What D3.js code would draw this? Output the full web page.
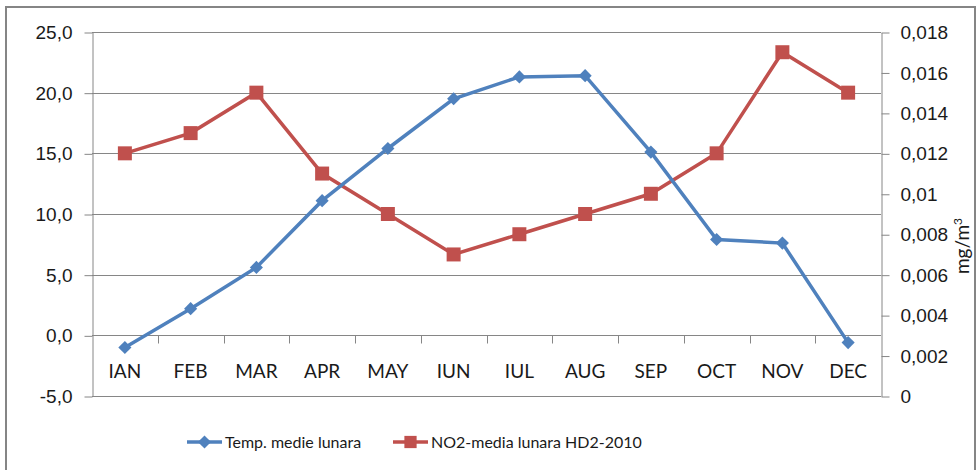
<!DOCTYPE html>
<meta charset="utf-8">
<script src="https://cdn.jsdelivr.net/npm/d3@7"></script>
<style>
    body { margin: 0; background: #fff; }
    svg { font-family: "Lato", "Open Sans", sans-serif; }
</style>
<svg width="979" height="470"></svg>
<script>
    var months = ["IAN", "FEB", "MAR", "APR", "MAY", "IUN", "IUL", "AUG", "SEP", "OCT", "NOV", "DEC"];
    var tempValues = [-1.0, 2.2, 5.6, 11.1, 15.4, 19.5, 21.3, 21.4, 15.1, 7.9, 7.6, -0.6];
    var no2Values = [0.012, 0.013, 0.015, 0.011, 0.009, 0.007, 0.008, 0.009, 0.010, 0.012, 0.017, 0.015];
    var leftTicks = [-5, 0, 5, 10, 15, 20, 25];
    var rightTicks = [0, 0.002, 0.004, 0.006, 0.008, 0.01, 0.012, 0.014, 0.016, 0.018];
    var seriesNames = ["Temp. medie lunara", "NO2-media lunara HD2-2010"];

    var svg = d3.select("svg");
    var blue = "#4f81bd", red = "#c0504d", gridColor = "#868686";

    var locale = d3.formatLocale({decimal: ",", thousands: ".", grouping: [3], currency: ["", ""], minus: "-"});
    var fmtLeft = locale.format(".1f"),
        fmtRight = locale.format(".3~f");

    var plotL = 92, plotR = 881, plotT = 32, plotB = 396;

    // outer frame
    svg.append("rect")
        .attr("x", 6).attr("y", 7).attr("width", 969).attr("height", 480)
        .attr("fill", "#fff").attr("stroke", "#858585").attr("stroke-width", 2);

    var x = d3.scaleBand().domain(months).range([plotL, plotR]);
    var yL = d3.scaleLinear().domain([-5, 25]).range([plotB, plotT]);
    var yR = d3.scaleLinear().domain([0, 0.018]).range([plotB, plotT]);

    // horizontal gridlines
    svg.append("g").selectAll("line")
        .data(leftTicks)
        .enter().append("line")
        .attr("x1", plotL).attr("x2", plotR)
        .attr("y1", function (d) { return Math.round(yL(d)) + 0.5; })
        .attr("y2", function (d) { return Math.round(yL(d)) + 0.5; })
        .attr("stroke", gridColor);

    // left axis
    var axL = svg.append("g")
        .attr("transform", "translate(" + (plotL + 0.5) + ",0.5)")
        .call(d3.axisLeft(yL).tickValues(leftTicks).tickFormat(fmtLeft).tickSizeInner(8).tickSizeOuter(0).tickPadding(12));
    // right axis
    var axR = svg.append("g")
        .attr("transform", "translate(" + (plotR + 0.5) + ",0.5)")
        .call(d3.axisRight(yR).tickValues(rightTicks).tickFormat(fmtRight).tickSizeInner(8).tickSizeOuter(0).tickPadding(11));
    // category axis on the zero line, ticks between categories
    var axX = svg.append("g")
        .attr("transform", "translate(0," + (Math.round(yL(0)) + 0.5) + ")");
    axX.append("line").attr("x1", plotL).attr("x2", plotR).attr("stroke", gridColor);
    axX.selectAll("line.tk")
        .data(months.slice(1))
        .enter().append("line")
        .attr("class", "tk")
        .attr("x1", function (d) { return Math.round(x(d)) + 0.5; })
        .attr("x2", function (d) { return Math.round(x(d)) + 0.5; })
        .attr("y1", 0).attr("y2", 8)
        .attr("stroke", gridColor);
    axX.selectAll("text")
        .data(months)
        .enter().append("text")
        .attr("x", function (d) { return x(d) + x.bandwidth() / 2; })
        .attr("y", 42)
        .attr("text-anchor", "middle")
        .attr("fill", "#1a1a1a")
        .attr("font-size", 19)
        .text(function (d) { return d; });

    [axL, axR].forEach(function (g) {
        g.select(".domain").attr("stroke", gridColor);
        g.selectAll(".tick line").attr("stroke", gridColor);
        g.selectAll(".tick text").attr("fill", "#1a1a1a").attr("font-size", 19).attr("font-family", null);
    });

    // right axis title
    svg.append("text")
        .attr("transform", "translate(969,246) rotate(-90)")
        .attr("text-anchor", "middle")
        .attr("font-size", 19)
        .attr("fill", "#1a1a1a")
        .html('mg/m<tspan dy="-7" font-size="12">3</tspan>');

    var cx = function (d, i) { return x(months[i]) + x.bandwidth() / 2; };

    var tempLine = d3.line().x(function (d, i) { return cx(d, i); }).y(function (d) { return yL(d); });
    var no2Line = d3.line().x(function (d, i) { return cx(d, i); }).y(function (d) { return yR(d); });

    svg.append("path").datum(no2Values)
        .attr("d", no2Line).attr("fill", "none").attr("stroke", red).attr("stroke-width", 3.5);
    svg.append("path").datum(tempValues)
        .attr("d", tempLine).attr("fill", "none").attr("stroke", blue).attr("stroke-width", 3.5);

    var square = d3.symbol().type(d3.symbolSquare).size(196);
    var diamond = d3.symbol().type(d3.symbolDiamond2).size(110);

    svg.append("g").selectAll("path")
        .data(no2Values)
        .enter().append("path")
        .attr("d", square)
        .attr("transform", function (d, i) { return "translate(" + cx(d, i) + "," + yR(d) + ")"; })
        .attr("fill", red);
    svg.append("g").selectAll("path")
        .data(tempValues)
        .enter().append("path")
        .attr("d", diamond)
        .attr("transform", function (d, i) { return "translate(" + cx(d, i) + "," + yL(d) + ")"; })
        .attr("fill", blue);

    // legend
    var legend = svg.append("g").attr("transform", "translate(0,442)");
    var items = [
        {name: seriesNames[0], color: blue, sym: diamond, x0: 187},
        {name: seriesNames[1], color: red, sym: d3.symbol().type(d3.symbolSquare).size(150), x0: 393}
    ];
    items.forEach(function (it) {
        legend.append("line")
            .attr("x1", it.x0).attr("x2", it.x0 + 35)
            .attr("stroke", it.color).attr("stroke-width", 3.5);
        legend.append("path")
            .attr("d", it.sym)
            .attr("transform", "translate(" + (it.x0 + 17.5) + ",0)")
            .attr("fill", it.color);
        legend.append("text")
            .attr("x", it.x0 + 38)
            .attr("y", 6)
            .attr("font-size", 16)
            .attr("fill", "#1a1a1a")
            .text(it.name);
    });
</script>
